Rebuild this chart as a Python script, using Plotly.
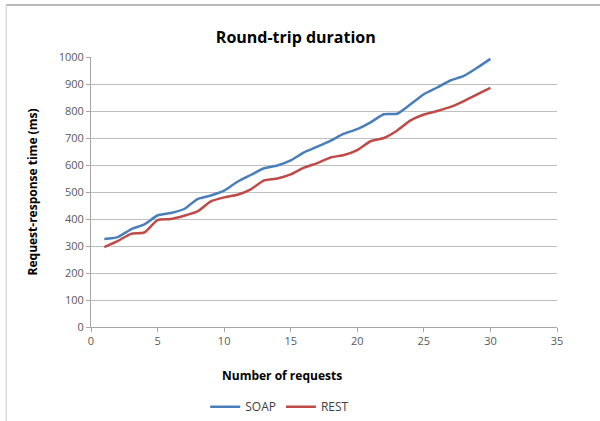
import plotly.graph_objects as go

requests = list(range(1, 31))
soap = [326, 333, 362, 380, 413, 422, 437, 474, 487, 505, 538, 563, 588, 598, 617, 647, 668, 690, 716, 733, 758, 788, 790, 825, 862, 887, 913, 930, 960, 993]
rest = [296, 318, 345, 350, 396, 400, 412, 428, 465, 480, 490, 510, 543, 550, 565, 590, 607, 628, 637, 655, 688, 700, 728, 765, 787, 800, 815, 837, 862, 886]

x_ticks = [0, 5, 10, 15, 20, 25, 30, 35]
y_ticks = list(range(0, 1001, 100))

FONT = "Open Sans, Liberation Sans, sans-serif"

fig = go.Figure()
fig.add_trace(go.Scatter(x=requests, y=soap, mode="lines", name="SOAP",
                         line=dict(color="#4a7ebb", width=2.5, shape="spline", smoothing=0.6)))
fig.add_trace(go.Scatter(x=requests, y=rest, mode="lines", name="REST",
                         line=dict(color="#be4b48", width=2.5, shape="spline", smoothing=0.6)))

fig.update_layout(
    width=600, height=421,
    margin=dict(l=91, r=43, t=57, b=94, autoexpand=False),
    paper_bgcolor="white", plot_bgcolor="white",
    font=dict(family=FONT, size=11, color="#404040"),
    title=dict(text="<b>Round-trip duration</b>", x=0.493, xanchor="center", y=0.912, yanchor="middle",
               font=dict(size=16, color="#000000", family=FONT)),
    showlegend=True,
    legend=dict(orientation="h", x=0.405, xanchor="center", y=-0.295, yanchor="middle",
                font=dict(size=12, color="#404040"), itemwidth=30, bgcolor="rgba(0,0,0,0)"),
    xaxis=dict(range=[0, 35], tickvals=x_ticks, showgrid=False, zeroline=False,
               showline=True, linecolor="#a6a6a6", linewidth=1, ticks="outside", ticklen=4,
               tickcolor="#a6a6a6", tickfont=dict(size=11, color="#595959")),
    yaxis=dict(range=[0, 1000], tickvals=y_ticks, showgrid=True, gridcolor="#bfbfbf", gridwidth=1,
               zeroline=False, showline=True, linecolor="#a6a6a6", linewidth=1, ticks="outside",
               ticklen=4, tickcolor="#a6a6a6", tickfont=dict(size=11, color="#595959"),
               title=dict(text="<b>Request-response time (ms)</b>", font=dict(size=12, color="#000000"), standoff=18)),
    annotations=[dict(text="<b>Number of requests</b>", xref="paper", yref="paper",
                      x=0.41, y=-0.18, xanchor="center", yanchor="middle", showarrow=False,
                      font=dict(size=12, color="#000000", family=FONT))],
    shapes=[
        dict(type="line", xref="paper", yref="paper", x0=-0.182, x1=1.1, y0=1.193, y1=1.193,
             line=dict(color="#a0a0a0", width=1.5)),
        dict(type="line", xref="paper", yref="paper", x0=-0.182, x1=-0.182, y0=1.193, y1=-0.36,
             line=dict(color="#c8c8c8", width=1)),
    ],
)

fig.write_html("out.html", config={"displayModeBar": False},
               post_script="document.body.style.margin='0';")
